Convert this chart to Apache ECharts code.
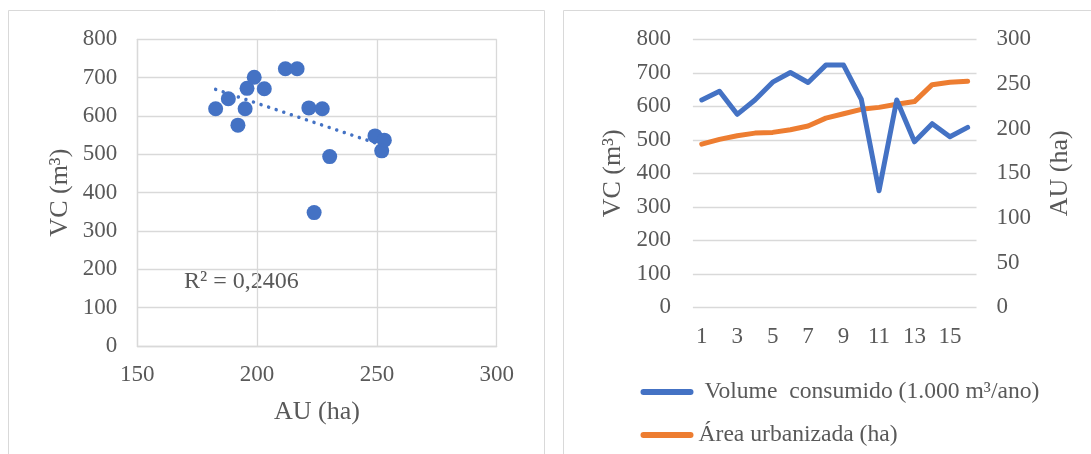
<!DOCTYPE html>
<html>
<head>
<meta charset="utf-8">
<script src="https://cdn.jsdelivr.net/npm/echarts@6/dist/echarts.min.js"></script>
<style>
html,body{margin:0;padding:0;background:#fff;}
#chart{width:1091px;height:454px;}
</style>
</head>
<body>
<div id="chart"></div>
<script>
// ---- data ----
const periods = ['1','2','3','4','5','6','7','8','9','10','11','12','13','14','15','16'];
const vcValues = [619, 645, 576, 619, 672, 701, 671, 723, 723, 621, 348, 619, 494, 548, 509, 537];
const auValues = [182.7, 188, 192, 195, 195.8, 198.8, 203, 211.8, 216.7, 221.6, 223.8, 227.2, 230.3, 249.2, 252, 253.1];
const seriesNames = ['Volume  consumido (1.000 m³/ano)', 'Área urbanizada (ha)'];
const r2Label = 'R² = 0,2406';
const scatterXRange = [150, 300, 50];
const vcRange = [0, 800, 100];
const auRange = [0, 300, 50];

// ---- derived ----
const scatterData = auValues.map((a, i) => [a, vcValues[i]]);
const n = auValues.length;
const mx = auValues.reduce((s, v) => s + v, 0) / n;
const my = vcValues.reduce((s, v) => s + v, 0) / n;
let sxy = 0, sxx = 0;
for (let i = 0; i < n; i++) { sxy += (auValues[i] - mx) * (vcValues[i] - my); sxx += (auValues[i] - mx) ** 2; }
const slope = sxy / sxx, icpt = my - slope * mx;
const xmin = Math.min(...auValues), xmax = Math.max(...auValues);
const trendData = [[xmin, icpt + slope * xmin], [xmax, icpt + slope * xmax]];

const FONT = 'Liberation Serif';
const TXT = '#595959';
const GRIDC = '#d9d9d9';
const BLUE = '#4472C4', ORANGE = '#ED7D31';

const chart = echarts.init(document.getElementById('chart'), null, {renderer: 'canvas'});
chart.setOption({
  animation: false,
  backgroundColor: '#fff',
  textStyle: {fontFamily: FONT},
  graphic: [
    {type: 'rect', shape: {x: 8.5, y: 10.5, width: 536, height: 460}, style: {fill: 'none', stroke: GRIDC, lineWidth: 1}, z: -10},
    {type: 'rect', shape: {x: 563.5, y: 10.5, width: 540, height: 460}, style: {fill: 'none', stroke: GRIDC, lineWidth: 1}, z: -10},
    {type: 'text', left: 184, top: 270, style: {text: r2Label, font: '24px "Liberation Serif"', fill: TXT}}
  ],
  grid: [
    {left: 137.3, top: 39.3, width: 359.4, height: 306.7},
    {left: 692.9, top: 39.3, width: 283.6, height: 268}
  ],
  legend: {
    data: seriesNames,
    orient: 'vertical',
    left: 635.5, top: 375,
    itemWidth: 53, itemHeight: 6, itemGap: 19,
    icon: 'path://M3,0 H50 A3,3 0 0 1 50,6 H3 A3,3 0 0 1 3,0 Z',
    formatter: name => name === seriesNames[0] ? ' ' + name : name,
    textStyle: {fontFamily: FONT, fontSize: 23.6, color: TXT}
  },
  xAxis: [
    {
      gridIndex: 0, type: 'value', min: scatterXRange[0], max: scatterXRange[1], interval: scatterXRange[2],
      name: 'AU (ha)', nameLocation: 'middle', nameGap: 53,
      nameTextStyle: {fontFamily: FONT, fontSize: 26, color: TXT},
      axisLine: {show: true, lineStyle: {color: GRIDC, width: 1.3}},
      axisTick: {show: false},
      axisLabel: {fontFamily: FONT, fontSize: 23, color: TXT, margin: 17},
      splitLine: {show: true, lineStyle: {color: GRIDC, width: 1.3}}
    },
    {
      gridIndex: 1, type: 'category', data: periods, boundaryGap: true,
      axisLine: {show: false}, axisTick: {show: false},
      axisLabel: {interval: 1, fontFamily: FONT, fontSize: 23, color: TXT, margin: 18},
      splitLine: {show: false}
    }
  ],
  yAxis: [
    {
      gridIndex: 0, type: 'value', min: vcRange[0], max: vcRange[1], interval: vcRange[2],
      name: 'VC (m³)', nameLocation: 'middle', nameGap: 64, nameRotate: 90,
      nameTextStyle: {fontFamily: FONT, fontSize: 26, color: TXT},
      axisLine: {show: true, lineStyle: {color: GRIDC, width: 1.3}},
      axisTick: {show: false},
      axisLabel: {fontFamily: FONT, fontSize: 23, color: TXT, margin: 20},
      splitLine: {show: true, lineStyle: {color: GRIDC, width: 1.3}}
    },
    {
      gridIndex: 1, type: 'value', position: 'left', min: vcRange[0], max: vcRange[1], interval: vcRange[2],
      name: 'VC (m³)', nameLocation: 'middle', nameGap: 67, nameRotate: 90,
      nameTextStyle: {fontFamily: FONT, fontSize: 26, color: TXT},
      axisLine: {show: false}, axisTick: {show: false},
      axisLabel: {fontFamily: FONT, fontSize: 23, color: TXT, margin: 22},
      splitLine: {show: true, lineStyle: {color: GRIDC, width: 1.3}}
    },
    {
      gridIndex: 1, type: 'value', position: 'right', min: auRange[0], max: auRange[1], interval: auRange[2],
      name: 'AU (ha)', nameLocation: 'middle', nameGap: 71, nameRotate: 90,
      nameTextStyle: {fontFamily: FONT, fontSize: 26, color: TXT},
      axisLine: {show: false}, axisTick: {show: false},
      axisLabel: {fontFamily: FONT, fontSize: 23, color: TXT, margin: 20},
      splitLine: {show: false}
    }
  ],
  series: [
    {
      type: 'scatter', xAxisIndex: 0, yAxisIndex: 0, data: scatterData,
      symbolSize: 15, itemStyle: {color: BLUE, opacity: 1}, z: 2
    },
    {
      type: 'line', xAxisIndex: 0, yAxisIndex: 0, data: trendData, symbol: 'none',
      lineStyle: {color: BLUE, width: 3.5, type: [0.01, 7.97], cap: 'round'}, z: 3, silent: true
    },
    {
      name: seriesNames[0], type: 'line', xAxisIndex: 1, yAxisIndex: 1, data: vcValues,
      symbol: 'none', itemStyle: {color: BLUE},
      lineStyle: {color: BLUE, width: 5, cap: 'round', join: 'round'}, z: 3
    },
    {
      name: seriesNames[1], type: 'line', xAxisIndex: 1, yAxisIndex: 2, data: auValues,
      symbol: 'none', itemStyle: {color: ORANGE},
      lineStyle: {color: ORANGE, width: 5, cap: 'round', join: 'round'}, z: 2
    }
  ]
});
</script>
</body>
</html>
